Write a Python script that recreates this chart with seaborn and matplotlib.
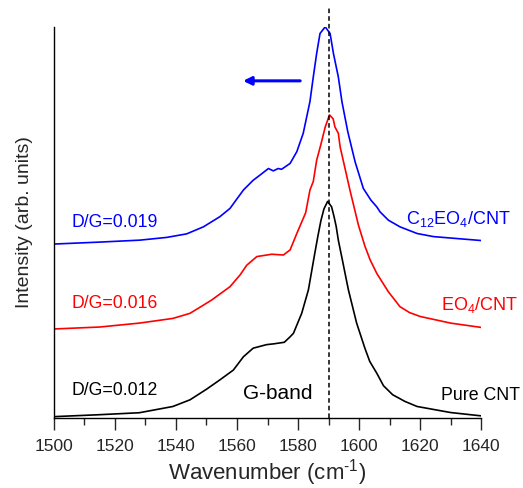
import matplotlib
matplotlib.use("Agg")
from matplotlib import pyplot as plt
from matplotlib.ticker import MultipleLocator
import seaborn as sns
import pandas as pd

# Raman G-band spectra (offset stacked, arb. units)
wn_pure = [1500, 1515, 1528, 1539, 1544.6, 1550, 1554.4, 1558.8, 1562.1, 1565.3, 1569.7,
           1572, 1575.5, 1577.4, 1578.5, 1581.2, 1583.4, 1585.3, 1586.5, 1587.5, 1588.5,
           1589.7, 1591.0, 1591.8, 1592.5, 1593.2, 1594.3, 1596.5, 1599.2, 1601.9, 1603.5,
           1605.8, 1608, 1611, 1615, 1619, 1630, 1640]
int_pure = [0.4, 0.9, 1.4, 3.0, 4.7, 7.4, 9.8, 12.3, 15.7, 17.9, 18.8,
            19.0, 19.4, 20.8, 21.7, 26.8, 32.8, 41.3, 46.5, 50.5, 53.5,
            55.4, 54.0, 51.5, 49.0, 45.5, 41.3, 32.8, 24.3, 17.9, 14.5,
            11.5, 8.3, 6.0, 4.3, 3.0, 1.45, 0.6]

wn_eo4 = [1500, 1515, 1528, 1539, 1544.6, 1549, 1551.7, 1557.7, 1561, 1563.2, 1566.5,
          1571.4, 1575.2, 1577.4, 1579.6, 1582.5, 1583.9, 1585, 1586.1, 1587.5, 1588.9,
          1590.3, 1591.5, 1592.1, 1593.2, 1593.8, 1595.2, 1597.0, 1599.8, 1601.9, 1603.6,
          1605.8, 1609.6, 1613.4, 1616.5, 1620, 1630, 1640]
int_eo4 = [22.8, 23.3, 24.3, 25.5, 26.8, 28.9, 30.2, 33.6, 36.6, 39.1, 41.3,
           41.9, 41.7, 43.0, 47.2, 52.5, 58.3, 60.5, 65.9, 70.0, 74.4,
           77.5, 76.5, 74.4, 72.8, 69.3, 64.5, 58.3, 49.3, 44.0, 40.5,
           37.0, 32.3, 28.5, 27.0, 26.0, 24.3, 23.2]

wn_c12 = [1500, 1515, 1528.2, 1537, 1543.5, 1549, 1554.4, 1557.7, 1562.1, 1565.3, 1567.5,
          1570.3, 1571.9, 1573.5, 1574.6, 1577.4, 1579.6, 1581.7, 1583.9, 1585.0, 1586.1,
          1587.2, 1588.9, 1590.5, 1591.6, 1593.2, 1594.4, 1596.3, 1598.7, 1601.4, 1603.9,
          1605.8, 1606.9, 1609.6, 1613.4, 1619, 1624.4, 1640]
int_c12 = [44.5, 45.0, 45.5, 46.2, 47.1, 48.9, 51.5, 53.6, 58.3, 60.8, 62.1,
           63.8, 63.2, 63.8, 63.6, 65.1, 68.1, 72.8, 80.9, 87.2, 93.2,
           98.3, 100.0, 98.3, 93.2, 87.2, 80.8, 73.2, 65.5, 58.7, 55.7,
           54.0, 52.7, 50.6, 48.9, 47.2, 46.4, 45.4]

samples = ["Pure CNT", "EO$_4$/CNT", "C$_{12}$EO$_4$/CNT"]
dg_labels = ["D/G=0.012", "D/G=0.016", "D/G=0.019"]
colors = ["black", "#ff0000", "#0000ff"]

df = pd.concat([
    pd.DataFrame({"wn": wn_pure, "I": int_pure, "sample": samples[0]}),
    pd.DataFrame({"wn": wn_eo4, "I": int_eo4, "sample": samples[1]}),
    pd.DataFrame({"wn": wn_c12, "I": int_c12, "sample": samples[2]}),
])

sns.set_style("ticks")
plt.rcParams['font.family'] = ['Liberation Sans', 'DejaVu Sans']
plt.rcParams['mathtext.fontset'] = 'custom'
plt.rcParams['mathtext.rm'] = 'Liberation Sans'
plt.rcParams['mathtext.it'] = 'Liberation Sans'

fig = plt.figure(figsize=(5.23, 4.88), dpi=100)
ax = fig.add_axes([0.103, 0.143, 0.817, 0.802])

sns.lineplot(data=df, x="wn", y="I", hue="sample", palette=dict(zip(samples, colors)),
             sort=False, estimator=None, linewidth=1.2, legend=False, ax=ax)

ax.set_xlim(1500, 1640)
ax.set_ylim(0, 100)
ax.set_yticks([])
ax.xaxis.set_major_locator(MultipleLocator(20))
ax.xaxis.set_minor_locator(MultipleLocator(10))
ax.tick_params(axis='x', which='major', length=8.4, width=1, labelsize=12.5, pad=6.5,
               direction='out')
ax.tick_params(axis='x', which='minor', length=4.8, width=1, direction='out')
sns.despine(ax=ax)
for s in ["left", "bottom"]:
    ax.spines[s].set_linewidth(1)
    ax.spines[s].set_color("black")

ax.set_xlabel("Wavenumber (cm$^{\u20101}$)", fontsize=16, labelpad=2.5)
ax.set_ylabel("Intensity (arb. units)", fontsize=14, labelpad=15)

ax.axvline(1590, ymin=0, ymax=1.047, color="black", linestyle=(0, (3, 2)),
           linewidth=1.1, clip_on=False)

# D/G ratios on the left, sample names on the right
dg_y = [7.2, 29.2, 50.0]
name_y = [5.8, 28.9, 50.8]
name_x = [1652.8, 1652, 1649.8]
for lab, y, c in zip(dg_labels, dg_y, colors):
    ax.text(1505.9, y, lab, color=c, fontsize=12.7, va="center", ha="left")
for lab, x, y, c in zip(samples, name_x, name_y, colors):
    ax.text(x, y, lab, color=c, fontsize=13 if c != "black" else 12.8, va="center",
            ha="right", clip_on=False)
ax.text(1562, 6.2, "G-band", color="black", fontsize=15, va="center", ha="left")

ax.annotate("", xy=(1562, 86.2), xytext=(1580.7, 86.2),
            arrowprops=dict(arrowstyle="-|>", color="#0000ff", lw=2.2,
                            mutation_scale=12, shrinkA=0, shrinkB=0))

fig.savefig("out.png", dpi=100)
